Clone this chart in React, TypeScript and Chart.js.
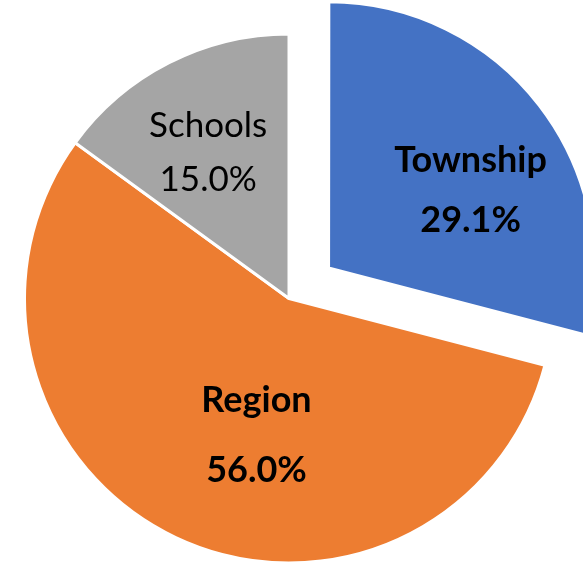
import React, { useEffect, useRef } from "react";
import { Chart, registerables } from "chart.js";

Chart.register(...registerables);

const categories = ["Township", "Region", "Schools"];
const shares = [29.1, 56.0, 15.0];
const percentLabels = ["29.1%", "56.0%", "15.0%"];
const sliceColors = ["#4472C4", "#ED7D31", "#A5A5A5"];
const explodeOffsets = [200, 0, 0];

// label placement relative to each slice (fraction of radius, angle nudge in degrees, line gap px, font)
const labelLayout = [
  { frac: 0.612, shift: 9, gap: 60, font: 'bold 36px Lato, "DejaVu Sans", sans-serif' },
  { frac: 0.532, shift: -12, gap: 70, font: 'bold 36px Lato, "DejaVu Sans", sans-serif' },
  { frac: 0.631, shift: -2, gap: 54, font: 'normal 35px Lato, "DejaVu Sans", sans-serif' },
];

const labelPlugin = {
  id: "sliceLabels",
  afterDatasetsDraw(chart: any) {
    const meta = chart.getDatasetMeta(0);
    const ctx = chart.ctx;
    ctx.save();
    ctx.textAlign = "center";
    ctx.textBaseline = "middle";
    ctx.fillStyle = "#000000";
    meta.data.forEach((arc: any, i: number) => {
      const p = arc.getProps(["x", "y", "startAngle", "endAngle", "outerRadius"], true);
      const half = (p.startAngle + p.endAngle) / 2;
      const off = (arc.options.offset || 0) / 4;
      const cx = p.x + Math.cos(half) * off;
      const cy = p.y + Math.sin(half) * off;
      const L = labelLayout[i];
      const a = half + (L.shift * Math.PI) / 180;
      const r = p.outerRadius * L.frac;
      const lx = cx + Math.cos(a) * r;
      const ly = cy + Math.sin(a) * r;
      ctx.font = L.font;
      ctx.fillText(categories[i], lx, ly - L.gap / 2);
      ctx.fillText(percentLabels[i], lx, ly + L.gap / 2);
    });
    ctx.restore();
  },
};

export default function App() {
  const ref = useRef<HTMLCanvasElement | null>(null);
  useEffect(() => {
    document.body.style.margin = "0";
    const chart = new Chart(ref.current as HTMLCanvasElement, {
      type: "pie",
      data: {
        labels: categories,
        datasets: [
          {
            data: shares,
            backgroundColor: sliceColors,
            borderColor: "#ffffff",
            borderWidth: 3,
            offset: explodeOffsets,
            radius: 264.5,
          } as any,
        ],
      },
      options: {
        animation: false,
        responsive: false,
        maintainAspectRatio: false,
        layout: { padding: { top: 34, right: 5, left: 0, bottom: 0 } },
        plugins: {
          legend: { display: false },
          tooltip: { enabled: false },
        },
      },
      plugins: [labelPlugin],
    });
    return () => chart.destroy();
  }, []);
  return (
    <div style={{ position: "absolute", left: 0, top: 0, width: 583, height: 563, background: "#fff" }}>
      <canvas ref={ref} width={583} height={563} style={{ width: 583, height: 563 }} />
    </div>
  );
}
